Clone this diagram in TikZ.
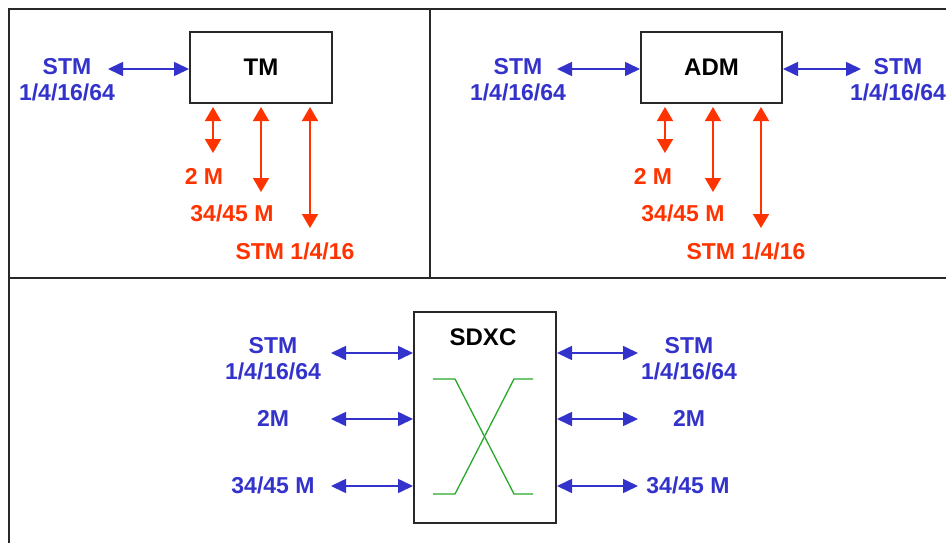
\documentclass[tikz,border=0pt]{standalone}
\usepackage{fontspec}
\setmainfont{Liberation Sans}
\usetikzlibrary{arrows.meta}
\definecolor{cblue}{RGB}{51,51,204}
\definecolor{cred}{RGB}{255,51,0}
\definecolor{cgreen}{RGB}{40,170,40}
\definecolor{cframe}{RGB}{40,40,40}
\begin{document}
\begin{tikzpicture}[x=1pt,y=-1pt,
  frameline/.style={draw=cframe,line width=2.2pt},
  devbox/.style={draw=cframe,line width=2pt,fill=white,inner sep=0pt,font=\fontsize{24}{26}\selectfont\bfseries},
  blab/.style={text=cblue,font=\fontsize{23}{26}\selectfont\bfseries,align=center,inner sep=0pt},
  rlab/.style={text=cred,font=\fontsize{23}{26}\selectfont\bfseries,align=center,inner sep=0pt},
  barrow/.style={draw=cblue,line width=1.6pt,{Triangle[length=15pt,width=14pt]}-{Triangle[length=15pt,width=14pt]}},
  rarrow/.style={draw=cred,line width=1.6pt,{Triangle[length=14pt,width=16pt]}-{Triangle[length=14pt,width=16pt]}},
  xline/.style={draw=cgreen,line width=1.3pt}]
\useasboundingbox (0,0) rectangle (946,543);
% frame
\draw[frameline] (9,560) -- (9,9) -- (960,9);
\draw[frameline] (9,278) -- (960,278);
\draw[frameline] (430,9) -- (430,278);

% ---------- TM ----------
\node[devbox,minimum width=142pt,minimum height=71pt] (tm) at (261,67.5) {TM};
\node[blab] (tmstm) at (67,80) {STM\\1/4/16/64};
\coordinate (tmL) at (108,69);
\draw[barrow] (tmL) -- (tmL -| tm.west);
\coordinate (tr1) at (213,153);
\coordinate (tr2) at (261,192);
\coordinate (tr3) at (310,228);
\draw[rarrow,shorten <=3pt] (tr1 |- tm.south) -- (tr1);
\draw[rarrow,shorten <=3pt] (tr2 |- tm.south) -- (tr2);
\draw[rarrow,shorten <=3pt] (tr3 |- tm.south) -- (tr3);
\node[rlab] (tm2m) at (204,176) {2 M};
\node[rlab] (tm34) at (232,213) {34/45 M};
\node[rlab] (tmstm2) at (295,251) {STM 1/4/16};

% ---------- ADM ----------
\node[devbox,minimum width=141pt,minimum height=71pt] (adm) at (711.5,67.5) {ADM};
\node[blab] (admstmL) at (518,80) {STM\\1/4/16/64};
\node[blab] (admstmR) at (898,80) {STM\\1/4/16/64};
\coordinate (admL) at (557,69);
\coordinate (admR) at (861,69);
\draw[barrow] (admL) -- (admL -| adm.west);
\draw[barrow] (admR -| adm.east) -- (admR);
\coordinate (ar1) at (665,153);
\coordinate (ar2) at (713,192);
\coordinate (ar3) at (761,228);
\draw[rarrow,shorten <=3pt] (ar1 |- adm.south) -- (ar1);
\draw[rarrow,shorten <=3pt] (ar2 |- adm.south) -- (ar2);
\draw[rarrow,shorten <=3pt] (ar3 |- adm.south) -- (ar3);
\node[rlab] (adm2m) at (653,176) {2 M};
\node[rlab] (adm34) at (683,213) {34/45 M};
\node[rlab] (admstm2) at (746,251) {STM 1/4/16};

% ---------- SDXC ----------
\node[devbox,minimum width=142pt,minimum height=211pt] (sdxc) at (485,417.5) {};
\node[font=\fontsize{24}{26}\selectfont\bfseries,inner sep=0pt] (sdxct) at (483,337) {SDXC};
\draw[xline] (433,379) -- (455,379) -- (514,494) -- (533,494);
\draw[xline] (433,494) -- (455,494) -- (514,379) -- (533,379);

\node[blab] (sl1) at (273,359) {STM\\1/4/16/64};
\node[blab] (sl2) at (273,418) {2M};
\node[blab] (sl3) at (273,485) {34/45 M};
\node[blab] (sr1) at (689,359) {STM\\1/4/16/64};
\node[blab] (sr2) at (689,418) {2M};
\node[blab] (sr3) at (688,485) {34/45 M};

\coordinate (sL1) at (331,353);
\coordinate (sL2) at (331,419);
\coordinate (sL3) at (331,486);
\coordinate (sR1) at (638,353);
\coordinate (sR2) at (638,419);
\coordinate (sR3) at (638,486);
\draw[barrow] (sL1) -- (sL1 -| sdxc.west);
\draw[barrow] (sL2) -- (sL2 -| sdxc.west);
\draw[barrow] (sL3) -- (sL3 -| sdxc.west);
\draw[barrow] (sR1 -| sdxc.east) -- (sR1);
\draw[barrow] (sR2 -| sdxc.east) -- (sR2);
\draw[barrow] (sR3 -| sdxc.east) -- (sR3);
\end{tikzpicture}
\end{document}
